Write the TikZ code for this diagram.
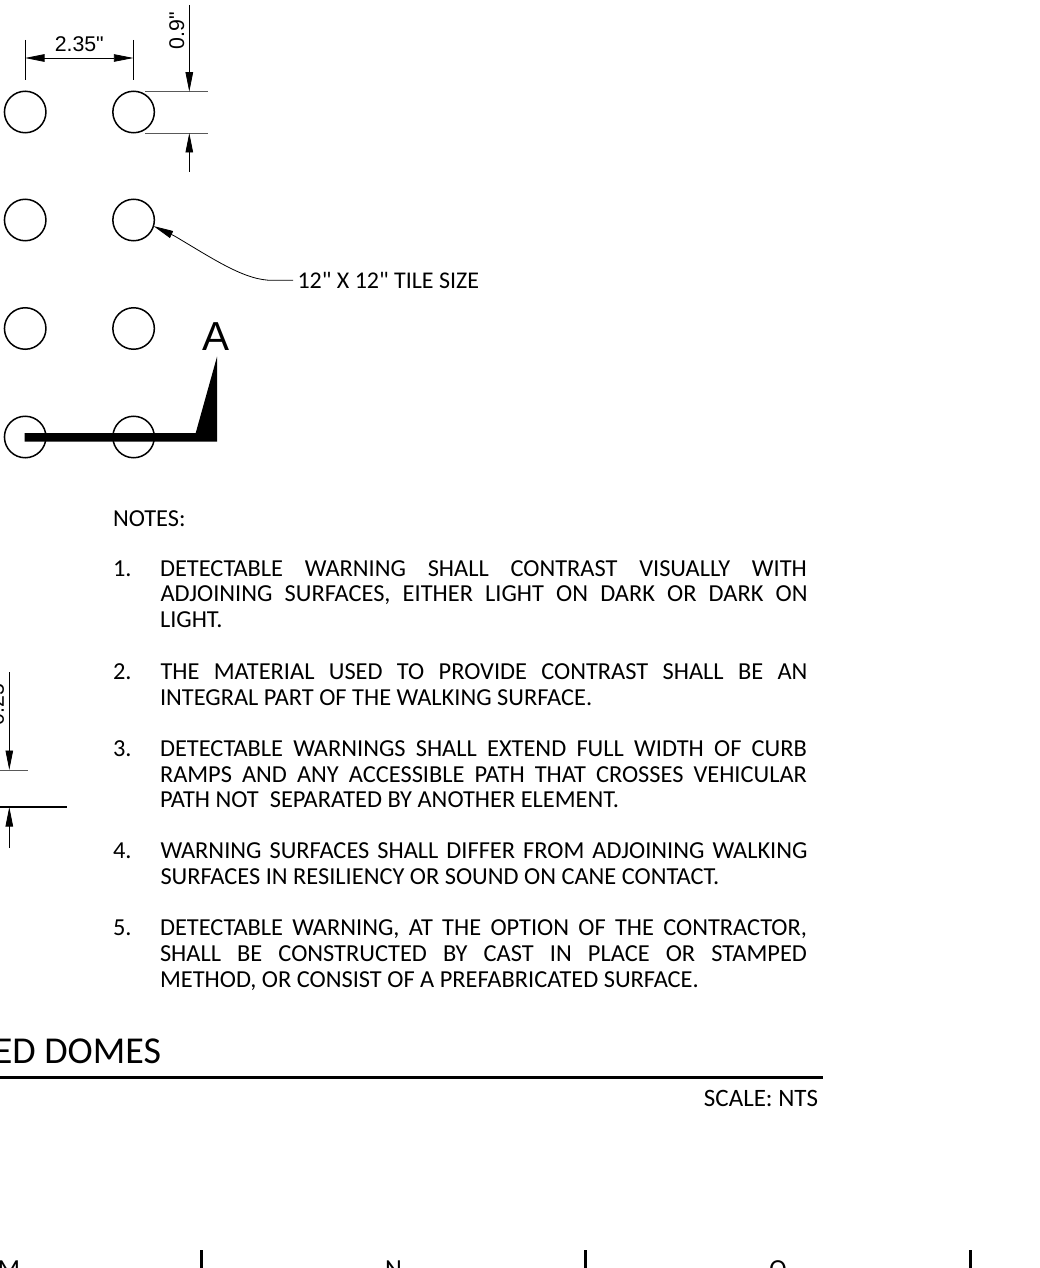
\documentclass[tikz,border=0pt]{standalone}
\usepackage{fontspec}
\setmainfont{Carlito}
\newfontfamily\plainf{Carlito}
\newfontfamily\cadfont{Liberation Sans}
\usetikzlibrary{arrows.meta}
\tikzset{
  x=1pt,y=-1pt,
  dome/.style={circle,draw,line width=1.5pt,minimum size=41.5pt,inner sep=0pt,outer sep=0pt},
  dim/.style={line width=.8pt},
  ext/.style={line width=.8pt,draw=black!65},
  tip/.style={-{Triangle[length=19.5pt,width=7.5pt]}},
  cad/.style={font=\cadfont\fontsize{21.3}{24}\selectfont,inner sep=0pt,outer sep=0pt},
  note/.style={font=\plainf\fontsize{24.4}{28}\selectfont,anchor=base west,inner sep=0pt,outer sep=0pt},
}
\newcommand{\jline}[3]{\node[note] at (#1,#2) {\makebox[647pt][s]{#3}};}
\begin{document}
\begin{tikzpicture}
\useasboundingbox (0,0) rectangle (1039,1268);
\clip (0,0) rectangle (1039,1268);
\foreach \nm/\y in {a/112,b/220,c/328.5,d/437}{
  \node[dome] (\nm1) at (25.2,\y) {};
  \node[dome] (\nm2) at (133.6,\y) {};
}
% 2.35 dimension
\coordinate (d1t) at (25,40); \coordinate (d1b) at (25,80);
\coordinate (d2t) at (133.4,40); \coordinate (d2b) at (133.4,80);
\draw[dim] (d1t) -- (d1b);
\draw[dim] (d2t) -- (d2b);
\coordinate (dm) at (79,58);
\draw[dim,tip] (dm) -- (d1t |- dm);
\draw[dim,tip] (dm) -- (d2t |- dm);
\node[cad] (lab235) at (79.3,44.5) {2.35"};
% 0.9 dimension
\coordinate (e1a) at (145,91.7); \coordinate (e1b) at (208,91.7);
\coordinate (e2a) at (145,133); \coordinate (e2b) at (208,133);
\draw[ext] (e1a) -- (e1b);
\draw[ext] (e2a) -- (e2b);
\coordinate (v1) at (189.3,5); \coordinate (v2) at (189.3,172);
\draw[dim,tip] (v1) -- (v1 |- e1a);
\draw[dim,tip] (v2) -- (v2 |- e2a);
\node[cad,rotate=90,anchor=base east] (lab09) at (184,12) {0.9"};
% leader
\coordinate (lead) at (293,280.3);
\draw[dim,{Triangle[length=20pt,width=7.5pt]}-] (b2.-17) -- (174,235.7) .. controls (212,258) and (245,281) .. (273,280.3) -- (lead);
\node[note,font=\plainf\fontsize{24}{28}\selectfont] (size) at (297.5,288) {12" X 12" TILE SIZE};
% section mark
\node[cad,font=\cadfont\fontsize{40.5}{44}\selectfont] (A) at (216.5,337) {A};
\fill (24.7,433) -- (195.7,433) -- (217,356.7) -- (217,441.7) -- (24.7,441.7) -- cycle;
% notes
\node[note] (n0) at (113,526.5) {NOTES:};
\node[note] (n1) at (113,576) {1.};
\jline{160}{576}{DETECTABLE WARNING SHALL CONTRAST VISUALLY WITH}
\jline{160.5}{601.8}{ADJOINING SURFACES, EITHER LIGHT ON DARK OR DARK ON}
\node[note] (n1c) at (160,627.5) {LIGHT.};
\node[note] (n2) at (113,679) {2.};
\jline{160.5}{679}{THE MATERIAL USED TO PROVIDE CONTRAST SHALL BE AN}
\node[note] (n2b) at (160,705) {INTEGRAL PART OF THE WALKING SURFACE.};
\node[note] (n3) at (113,756) {3.};
\jline{160}{756}{DETECTABLE WARNINGS SHALL EXTEND FULL WIDTH OF CURB}
\jline{160}{782}{RAMPS AND ANY ACCESSIBLE PATH THAT CROSSES VEHICULAR}
\node[note] (n3c) at (160,807.7) {PATH NOT\ \ SEPARATED BY ANOTHER ELEMENT.};
\node[note] (n4) at (113,858) {4.};
\jline{160.5}{858}{WARNING SURFACES SHALL DIFFER FROM ADJOINING WALKING}
\node[note] (n4b) at (160.5,884.3) {SURFACES IN RESILIENCY OR SOUND ON CANE CONTACT.};
\node[note] (n5) at (113,935.7) {5.};
\jline{160}{935.7}{DETECTABLE WARNING, AT THE OPTION OF THE CONTRACTOR,}
\jline{160}{961.7}{SHALL BE CONSTRUCTED BY CAST IN PLACE OR STAMPED}
\node[note] (n5c) at (160,987.7) {METHOD, OR CONSIST OF A PREFABRICATED SURFACE.};
% 0.25 dimension
\coordinate (f1b) at (27.7,770); \coordinate (f0) at (0,770);
\draw[ext] (f0) -- (f1b);
\coordinate (g0) at (0,807); \coordinate (g1) at (66.5,807);
\draw[line width=1.6pt] (g0) -- (g1);
\coordinate (w1) at (9.3,672); \coordinate (w2) at (9.3,848);
\draw[dim,tip] (w1) -- (w1 |- f0);
\draw[dim,tip] (w2) -- (w2 |- g0);
\node[cad,rotate=90,anchor=base east] (lab025) at (3.8,676) {0.25"};
% title
\node[note,font=\plainf\fontsize{38}{42}\selectfont,anchor=base east] (title) at (161,1063) {TRUNCATED DOMES};
\coordinate (r0) at (0,1077.7); \coordinate (r1) at (823,1077.7);
\draw[line width=3.2pt] (r0) -- (r1);
\node[note,font=\plainf\fontsize{25}{28}\selectfont,anchor=base east] (scale) at (818,1106) {SCALE: NTS};
% bottom
\foreach \nm/\x/\t in {m/9/M,n/393.5/N,o/778/O}{
  \node[note,font=\plainf\fontsize{26}{28}\selectfont,anchor=base] (\nm) at (\x,1277) {\t};
}
\foreach \nm/\x in {p/201,q/585.5,r/970}{
  \coordinate (\nm1) at (\x,1250); \coordinate (\nm2) at (\x,1268);
  \draw[line width=3pt] (\nm1) -- (\nm2);
}
\end{tikzpicture}
\end{document}
